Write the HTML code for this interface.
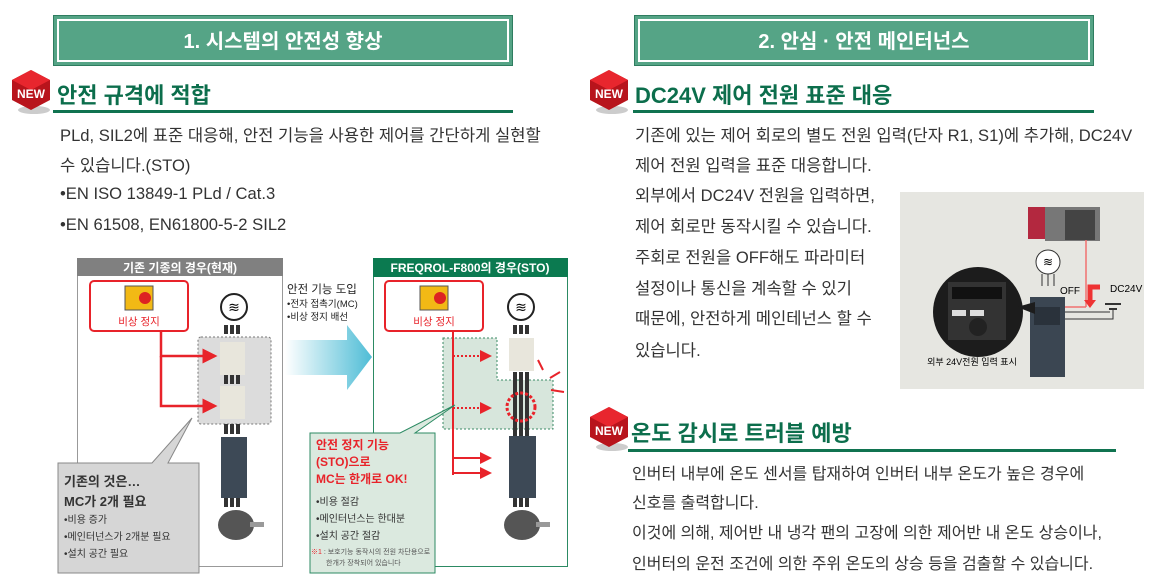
<!DOCTYPE html>
<html><head><meta charset="utf-8"><style>
*{margin:0;padding:0;box-sizing:border-box}
body{width:1151px;height:585px;background:#fff;position:relative;overflow:hidden;font-family:"Liberation Sans","Noto Sans CJK KR","NanumGothic",sans-serif;color:#2a2a2a}
.a{position:absolute;white-space:nowrap}
.hb{position:absolute;top:15px;height:51px;background:#55a486;border:1px solid #2f7d60;outline:none}
.hb div{position:absolute;inset:3px;border:2px solid #fff;color:#fff;font-weight:bold;font-size:20px;text-align:center;line-height:42px}
.ttl{font-size:22px;font-weight:bold;color:#0c6e4c}
.ul{position:absolute;height:3px;background:#107350}
.t{font-size:16.6px;color:#333}
.t2{font-size:16px;color:#333}
.new{position:absolute;width:42px;height:46px}
</style></head><body>

<div class="hb" style="left:53px;width:460px"><div>1. 시스템의 안전성 향상</div></div>
<div class="hb" style="left:634px;width:460px"><div>2. 안심 · 안전 메인터넌스</div></div>

<svg class="new" style="left:10px;top:68px" viewBox="0 0 42 46"><ellipse cx="24" cy="42" rx="16" ry="4" fill="#ccc"/><polygon points="21,2 40,12 40,32 21,42 2,32 2,12" fill="#b8141c"/><polygon points="21,2 40,12 21,22 2,12" fill="#e8262e"/><text x="21" y="30" font-size="12" font-weight="bold" fill="#fff" text-anchor="middle" font-family="Liberation Sans">NEW</text></svg>
<svg class="new" style="left:588px;top:68px" viewBox="0 0 42 46"><ellipse cx="24" cy="42" rx="16" ry="4" fill="#ccc"/><polygon points="21,2 40,12 40,32 21,42 2,32 2,12" fill="#b8141c"/><polygon points="21,2 40,12 21,22 2,12" fill="#e8262e"/><text x="21" y="30" font-size="12" font-weight="bold" fill="#fff" text-anchor="middle" font-family="Liberation Sans">NEW</text></svg>
<svg class="new" style="left:588px;top:405px" viewBox="0 0 42 46"><ellipse cx="24" cy="42" rx="16" ry="4" fill="#ccc"/><polygon points="21,2 40,12 40,32 21,42 2,32 2,12" fill="#b8141c"/><polygon points="21,2 40,12 21,22 2,12" fill="#e8262e"/><text x="21" y="30" font-size="12" font-weight="bold" fill="#fff" text-anchor="middle" font-family="Liberation Sans">NEW</text></svg>

<div class="a ttl" style="left:57px;top:78px">안전 규격에 적합</div>
<div class="ul" style="left:53px;top:110px;width:460px"></div>
<div class="a ttl" style="left:635px;top:78px">DC24V 제어 전원 표준 대응</div>
<div class="ul" style="left:633px;top:110px;width:461px"></div>
<div class="a ttl" style="left:631px;top:416px">온도 감시로 트러블 예방</div>
<div class="ul" style="left:628px;top:449px;width:488px"></div>

<div class="a t" style="left:60px;top:122px">PLd, SIL2에 표준 대응해, 안전 기능을 사용한 제어를 간단하게 실현할</div>
<div class="a t" style="left:60px;top:152px">수 있습니다.(STO)</div>
<div class="a t" style="left:60px;top:184px">•EN ISO 13849-1 PLd / Cat.3</div>
<div class="a t" style="left:60px;top:215px">•EN 61508, EN61800-5-2 SIL2</div>

<div class="a t" style="left:635px;top:122px">기존에  있는 제어 회로의 별도 전원 입력(단자 R1, S1)에 추가해, DC24V</div>
<div class="a t" style="left:635px;top:152px">제어 전원 입력을 표준 대응합니다.</div>
<div class="a t" style="left:635px;top:182px">외부에서 DC24V 전원을 입력하면,</div>
<div class="a t" style="left:635px;top:213px">제어 회로만 동작시킬 수 있습니다.</div>
<div class="a t" style="left:635px;top:244px">주회로 전원을 OFF해도 파라미터</div>
<div class="a t" style="left:635px;top:275px">설정이나 통신을 계속할 수 있기</div>
<div class="a t" style="left:635px;top:305px">때문에, 안전하게 메인테넌스 할 수</div>
<div class="a t" style="left:635px;top:337px">있습니다.</div>

<div class="a t2" style="left:632px;top:460px">인버터 내부에 온도 센서를 탑재하여 인버터 내부 온도가 높은 경우에</div>
<div class="a t2" style="left:632px;top:489px">신호를 출력합니다.</div>
<div class="a t2" style="left:632px;top:519px">이것에 의해, 제어반 내 냉각 팬의 고장에 의한 제어반 내 온도 상승이나,</div>
<div class="a t2" style="left:632px;top:550px">인버터의 운전 조건에 의한 주위 온도의 상승 등을 검출할 수 있습니다.</div>

<svg class="a" style="left:900px;top:192px" width="244" height="197" viewBox="0 0 244 197">
<rect width="244" height="197" fill="#e6e6e1"/>
<rect x="128" y="15" width="35" height="32" fill="#b3283f"/><rect x="145" y="15" width="55" height="34" fill="#777"/><rect x="165" y="18" width="30" height="30" fill="#444"/>
<line x1="186" y1="48" x2="186" y2="115" stroke="#f07070" stroke-width="1.5"/><line x1="186" y1="115" x2="162" y2="115" stroke="#f07070" stroke-width="1.5"/>
<circle cx="148" cy="70" r="12" fill="#fff" stroke="#333"/><text x="148" y="74" font-size="12" text-anchor="middle">≋</text>
<path d="M142 82v12M148 82v12M154 82v12" stroke="#333"/>
<text x="160" y="102" font-size="10" font-family="Liberation Sans">OFF</text>
<rect x="130" y="105" width="35" height="80" fill="#3b4652"/><rect x="134" y="115" width="26" height="18" fill="#2a323b"/>
<circle cx="78" cy="120" r="45" fill="#1c1c1c"/><rect x="48" y="90" width="58" height="58" fill="#333"/><rect x="52" y="95" width="50" height="12" fill="#111"/><circle cx="78" cy="135" r="9" fill="#222"/>
<rect x="52" y="118" width="14" height="6" fill="#ddd"/><rect x="70" y="118" width="14" height="6" fill="#ddd"/>
<path d="M117 115 L135 110 L135 122Z" fill="#1c1c1c"/>
<text x="72" y="173" font-size="9" text-anchor="middle" font-family="Liberation Sans,Noto Sans CJK KR">외부 24V전원 입력 표시</text>
<text x="210" y="100" font-size="10" font-family="Liberation Sans">DC24V</text>
<path d="M200 95 h-10 v15" stroke="#e33" stroke-width="5" fill="none"/><path d="M184 108h12l-6 8z" fill="#e33"/>
<path d="M165 120 h45 M165 127 h48 v-10" stroke="#333" fill="none"/><path d="M205 112h16M209 117h8" stroke="#333" stroke-width="2"/>
</svg>

<svg class="a" style="left:0;top:250px" width="580" height="335" viewBox="0 250 580 335" font-family="Liberation Sans,Noto Sans CJK KR,sans-serif">
<defs><linearGradient id="g" x1="0" x2="1"><stop offset="0" stop-color="#fff"/><stop offset="1" stop-color="#4fbdd6"/></linearGradient>
<marker id="ar" markerWidth="6" markerHeight="6" refX="5" refY="3" orient="auto"><path d="M0,0L6,3L0,6Z" fill="#e8232a"/></marker></defs>
<rect x="77.5" y="258.5" width="205" height="308" fill="#fff" stroke="#999"/>
<rect x="77" y="258" width="206" height="18" fill="#808080"/>
<text x="180" y="272" font-size="12" font-weight="bold" fill="#fff" text-anchor="middle">기존 기종의 경우(현재)</text>
<rect x="90" y="281" width="98" height="50" rx="4" fill="#fff" stroke="#e8232a" stroke-width="2"/>
<rect x="125" y="286" width="28" height="24" fill="#f2b915" stroke="#555"/><circle cx="145" cy="298" r="6" fill="#d22"/>
<text x="139" y="325" font-size="10.5" fill="#e8232a" text-anchor="middle">비상 정지</text>
<circle cx="234" cy="307" r="13" fill="#fff" stroke="#222" stroke-width="2"/><text x="234" y="312" font-size="14" text-anchor="middle">≋</text>
<rect x="198" y="337" width="73" height="87" rx="3" fill="#dcdcdc" stroke="#777" stroke-dasharray="2,2"/>
<g fill="#333"><rect x="224" y="325" width="4" height="9"/><rect x="230" y="325" width="4" height="9"/><rect x="236" y="325" width="4" height="9"/>
<rect x="224" y="375" width="4" height="9"/><rect x="230" y="375" width="4" height="9"/><rect x="236" y="375" width="4" height="9"/>
<rect x="224" y="424" width="4" height="10"/><rect x="230" y="424" width="4" height="10"/><rect x="236" y="424" width="4" height="10"/>
<rect x="224" y="498" width="4" height="9"/><rect x="230" y="498" width="4" height="9"/><rect x="236" y="498" width="4" height="9"/></g>
<rect x="220" y="342" width="25" height="33" fill="#e8e6dc"/><rect x="220" y="386" width="25" height="33" fill="#e8e6dc"/>
<rect x="221" y="437" width="26" height="61" fill="#3d4956"/>
<ellipse cx="236" cy="525" rx="18" ry="15" fill="#555"/><rect x="250" y="522" width="14" height="5" fill="#999"/>
<polyline points="161,331 161,356 215,356" fill="none" stroke="#e8232a" stroke-width="2.5" marker-end="url(#ar)"/>
<polyline points="161,356 161,406 215,406" fill="none" stroke="#e8232a" stroke-width="2.5" marker-end="url(#ar)"/>
<path d="M58 463 H152 L192 418 L168 463 H199 V573 H58Z" fill="#d6d6d6" stroke="#888"/>
<text x="64" y="486" font-size="13" font-weight="bold" fill="#333">기존의 것은…</text>
<text x="64" y="506" font-size="13" font-weight="bold" fill="#333">MC가 2개 필요</text>
<text x="64" y="523" font-size="10" fill="#333">•비용 증가</text>
<text x="64" y="540" font-size="10" fill="#333">•메인터넌스가 2개분 필요</text>
<text x="64" y="557" font-size="10" fill="#333">•설치 공간 필요</text>
<text x="287" y="293" font-size="11.5" fill="#222">안전 기능 도입</text>
<text x="287" y="307" font-size="9.5" fill="#222">•전자 접촉기(MC)</text>
<text x="287" y="320" font-size="9.5" fill="#222">•비상 정지 배선</text>
<path d="M285 340 H347 V325 L372 357 L347 390 V375 H285Z" fill="url(#g)"/>
<rect x="373.5" y="258.5" width="194" height="308" fill="#fff" stroke="#2c8a63"/>
<rect x="373" y="258" width="195" height="19" fill="#0b7a50"/>
<text x="470" y="272" font-size="12" font-weight="bold" fill="#fff" text-anchor="middle">FREQROL-F800의 경우(STO)</text>
<rect x="385" y="281" width="98" height="50" rx="4" fill="#fff" stroke="#e8232a" stroke-width="2"/>
<rect x="420" y="286" width="28" height="24" fill="#f2b915" stroke="#555"/><circle cx="440" cy="298" r="6" fill="#d22"/>
<text x="434" y="325" font-size="10.5" fill="#e8232a" text-anchor="middle">비상 정지</text>
<circle cx="521" cy="307" r="13" fill="#fff" stroke="#222" stroke-width="2"/><text x="521" y="312" font-size="14" text-anchor="middle">≋</text>
<path d="M443 338 H497 V380 H553 V429 H443Z" fill="#d7e6dc" stroke="#3a8a64" stroke-dasharray="2,2"/>
<g fill="#333"><rect x="513" y="325" width="4" height="9"/><rect x="519" y="325" width="4" height="9"/><rect x="525" y="325" width="4" height="9"/>
<rect x="513" y="372" width="4" height="64"/><rect x="519" y="372" width="4" height="64"/><rect x="525" y="372" width="4" height="64"/>
<rect x="513" y="498" width="4" height="9"/><rect x="519" y="498" width="4" height="9"/><rect x="525" y="498" width="4" height="9"/></g>
<rect x="509" y="338" width="25" height="33" fill="#e8e6dc"/>
<circle cx="521" cy="407" r="14" fill="none" stroke="#e8232a" stroke-width="3" stroke-dasharray="3,2"/>
<rect x="509" y="436" width="27" height="62" fill="#3d4956"/>
<ellipse cx="522" cy="525" rx="18" ry="15" fill="#555"/><rect x="536" y="522" width="14" height="5" fill="#999"/>
<line x1="453" y1="331" x2="453" y2="475" stroke="#e8232a" stroke-width="2"/>
<line x1="453" y1="356" x2="490" y2="356" stroke="#e8232a" stroke-width="2" stroke-dasharray="2,2" marker-end="url(#ar)"/>
<line x1="453" y1="408" x2="490" y2="408" stroke="#e8232a" stroke-width="2" stroke-dasharray="2,2" marker-end="url(#ar)"/>
<line x1="453" y1="458" x2="490" y2="458" stroke="#e8232a" stroke-width="2" marker-end="url(#ar)"/>
<line x1="453" y1="473" x2="490" y2="473" stroke="#e8232a" stroke-width="2" marker-end="url(#ar)"/>
<path d="M543 370 l-5 -10 M550 378 l10 -6 M551 390 l13 2" stroke="#e8232a" stroke-width="2"/>
<path d="M310 433 H400 L455 405 L415 433 H435 V573 H310Z" fill="#dbe9df" stroke="#2c8a63"/>
<text x="316" y="449" font-size="12" font-weight="bold" fill="#e8232a">안전 정지 기능</text>
<text x="316" y="466" font-size="12" font-weight="bold" fill="#e8232a">(STO)으로</text>
<text x="316" y="483" font-size="12" font-weight="bold" fill="#e8232a">MC는 한개로 OK!</text>
<text x="316" y="505" font-size="10" fill="#333">•비용 절감</text>
<text x="316" y="522" font-size="10" fill="#333">•메인터넌스는 한대분</text>
<text x="316" y="539" font-size="10" fill="#333">•설치 공간 절감</text>
<text x="311" y="554" font-size="7" fill="#555"><tspan fill="#e8232a">※1</tspan> : 보호기능 동작시의 전원 차단용으로</text>
<text x="326" y="565" font-size="7" fill="#555">한개가 장착되어 있습니다</text>
</svg>
</body></html>
